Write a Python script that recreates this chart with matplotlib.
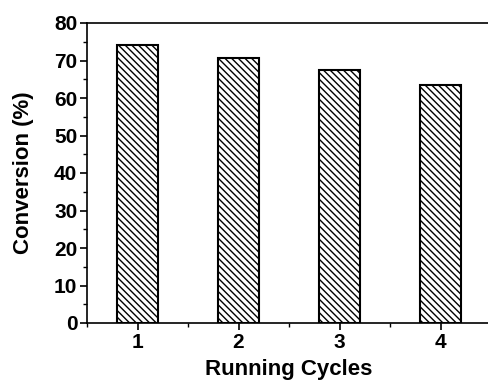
import matplotlib
matplotlib.use('Agg')
import matplotlib.pyplot as plt
from matplotlib.ticker import MultipleLocator

# data
cycles = [1, 2, 3, 4]
conversion = [74.2, 70.8, 67.4, 63.6]
cycle_labels = ['1', '2', '3', '4']

plt.rcParams['font.family'] = ['Liberation Sans', 'DejaVu Sans']
plt.rcParams['font.weight'] = 'bold'
plt.rcParams['hatch.linewidth'] = 1.0

fig = plt.figure(figsize=(4.89, 3.83), dpi=100)
ax = fig.add_axes([87/489, 60/383, 404/489, 300/383])

ax.bar(cycles, conversion, width=0.4, color='white', edgecolor='black',
       linewidth=1.5, hatch='\\' * 5)

ax.set_xlim(0.5, 4.5)
ax.set_ylim(0, 80)
ax.set_xticks(cycles)
ax.set_xticklabels(cycle_labels)
ax.xaxis.set_minor_locator(MultipleLocator(0.5))
ax.yaxis.set_major_locator(MultipleLocator(10))
ax.yaxis.set_minor_locator(MultipleLocator(5))

ax.tick_params(which='major', direction='out', length=5, width=1.2, labelsize=15, pad=2)
ax.tick_params(which='minor', direction='out', length=3, width=1.0)
for s in ax.spines.values():
    s.set_linewidth(1.2)

ax.set_xlabel('Running Cycles', fontsize=16, fontweight='bold', labelpad=5)
ax.set_ylabel('Conversion (%)', fontsize=16, fontweight='bold', labelpad=14)

fig.savefig('out.png', dpi=100)
